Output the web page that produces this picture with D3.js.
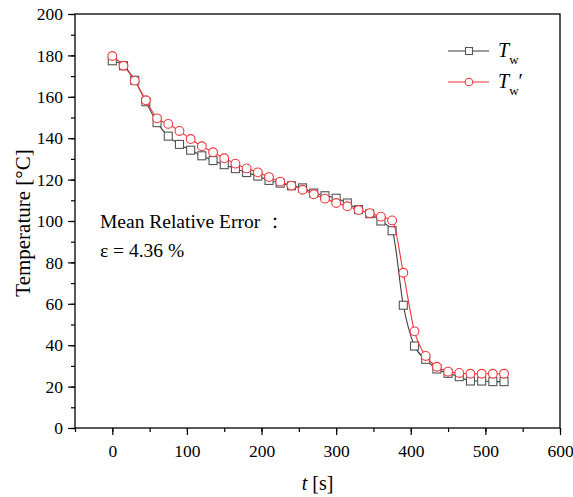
<!DOCTYPE html>
<html>
<head>
<meta charset="utf-8">
<script src="https://cdn.jsdelivr.net/npm/d3@7"></script>
<style>
  body { margin: 0; background: #fff; }
  text { font-family: "Liberation Serif", "Times New Roman", serif; }
</style>
</head>
<body>
<script>
// temperature curves
let w = 573;
let h = 497;

let time = [0, 15, 30, 45, 60, 75, 90, 105, 120, 135, 150, 165, 180, 195, 210, 225, 240, 255,
    270, 285, 300, 315, 330, 345, 360, 375, 390, 405, 420, 435, 450, 465, 480, 495, 510, 525];
let tw = [177.4, 175.0, 168.0, 157.6, 147.5, 141.0, 137.0, 134.2, 131.5, 129.2, 127.2, 125.3,
    123.4, 121.7, 119.6, 118.3, 117.0, 116.0, 113.5, 112.2, 111.0, 108.7, 105.5, 103.5,
    100.0, 95.3, 59.3, 39.6, 33.2, 28.5, 26.4, 24.8, 22.7, 22.7, 22.4, 22.4];
let twPrime = [179.7, 175.0, 167.8, 158.3, 149.6, 146.9, 143.5, 139.6, 136.1, 133.2, 130.3, 127.7,
    125.4, 123.5, 121.2, 119.0, 117.1, 115.1, 112.9, 110.8, 108.7, 107.1, 105.3, 103.8,
    102.1, 100.3, 75.0, 46.7, 34.8, 29.6, 27.2, 26.6, 26.2, 26.2, 26.2, 26.2];
let xTicks = [0, 100, 200, 300, 400, 500, 600];
let yTicks = [0, 20, 40, 60, 80, 100, 120, 140, 160, 180, 200];

let mL = 75, mR = 560, mT = 14, mB = 428;

let svg = d3.select('body').append('svg')
    .attr('width', w)
    .attr('height', h);

let x = d3.scaleLinear().domain([-50, 600]).range([mL, mR]);
let y = d3.scaleLinear().domain([0, 200]).range([mB, mT]);

// frame
svg.append('rect')
    .attr('x', mL).attr('y', mT)
    .attr('width', mR - mL).attr('height', mB - mT)
    .attr('fill', 'none').attr('stroke', '#000').attr('stroke-width', 1.3);

// minor ticks
svg.append('g')
    .attr('transform', `translate(0,${mB})`)
    .call(d3.axisBottom(x).tickValues(d3.range(-50, 601, 50)).tickSize(4).tickFormat(''))
    .call(g => g.select('.domain').remove());
svg.append('g')
    .attr('transform', `translate(${mL},0)`)
    .call(d3.axisLeft(y).tickValues(d3.range(0, 201, 10)).tickSize(4).tickFormat(''))
    .call(g => g.select('.domain').remove());

// major ticks
let xAxis = svg.append('g')
    .attr('transform', `translate(0,${mB})`)
    .call(d3.axisBottom(x).tickValues(xTicks).tickSize(7).tickPadding(5))
    .call(g => g.select('.domain').remove());
let yAxis = svg.append('g')
    .attr('transform', `translate(${mL},0)`)
    .call(d3.axisLeft(y).tickValues(yTicks).tickSize(7).tickPadding(5))
    .call(g => g.select('.domain').remove());

svg.selectAll('.tick line').attr('stroke-width', 1.2);
svg.selectAll('.tick text')
    .attr('font-family', 'Liberation Serif')
    .attr('font-size', 17.5)
    .attr('fill', '#000');
xAxis.selectAll('.tick text').attr('dy', '0.95em');

// axis titles
svg.append('text')
    .attr('x', (mL + mR) / 2).attr('y', 490)
    .attr('text-anchor', 'middle')
    .attr('font-size', 20)
    .html('<tspan font-style="italic">t</tspan> [s]');
svg.append('text')
    .attr('transform', `translate(30,223) rotate(-90)`)
    .attr('text-anchor', 'middle')
    .attr('font-size', 21)
    .text('Temperature [°C]');

let series = [
    { vals: tw, line: '#3c3c3c', mark: '#555', shape: 'square' },
    { vals: twPrime, line: '#ee3338', mark: '#f0393e', shape: 'circle' }
];

let line = d3.line()
    .x(d => x(d[0]))
    .y(d => y(d[1]))
    .curve(d3.curveMonotoneX);

series.forEach(s => {
    let pts = time.map((t, i) => [t, s.vals[i]]);
    svg.append('path')
        .datum(pts)
        .attr('d', line)
        .attr('fill', 'none')
        .attr('stroke', s.line)
        .attr('stroke-width', 1.1);
    if (s.shape === 'square') {
        svg.selectAll('rect.sq')
            .data(pts)
            .enter()
            .append('rect')
            .attr('class', 'sq')
            .attr('x', d => x(d[0]) - 4)
            .attr('y', d => y(d[1]) - 4)
            .attr('width', 8)
            .attr('height', 8)
            .attr('fill', '#fff')
            .attr('stroke', s.mark)
            .attr('stroke-width', 1.1);
    } else {
        svg.selectAll('circle.ci')
            .data(pts)
            .enter()
            .append('circle')
            .attr('class', 'ci')
            .attr('cx', d => x(d[0]))
            .attr('cy', d => y(d[1]))
            .attr('r', 4.4)
            .attr('fill', '#fff')
            .attr('stroke', s.mark)
            .attr('stroke-width', 1.1);
    }
});

// legend
let lg = svg.append('g');
lg.append('line').attr('x1', 448).attr('x2', 489).attr('y1', 51).attr('y2', 51)
    .attr('stroke', '#3c3c3c').attr('stroke-width', 1.1);
lg.append('rect').attr('x', 465.5).attr('y', 47.5).attr('width', 7).attr('height', 7)
    .attr('fill', '#fff').attr('stroke', '#555').attr('stroke-width', 1.1);
lg.append('line').attr('x1', 448).attr('x2', 489).attr('y1', 82).attr('y2', 82)
    .attr('stroke', '#ee3338').attr('stroke-width', 1.1);
lg.append('circle').attr('cx', 469).attr('cy', 82).attr('r', 3.8)
    .attr('fill', '#fff').attr('stroke', '#f0393e').attr('stroke-width', 1.1);

lg.append('text').attr('x', 498).attr('y', 57).attr('font-size', 20)
    .html('<tspan font-style="italic">T</tspan><tspan font-size="13" dy="7">w</tspan>');
lg.append('text').attr('x', 498).attr('y', 88).attr('font-size', 20)
    .html('<tspan font-style="italic">T</tspan><tspan font-size="13" dy="7">w</tspan><tspan dy="-7">′</tspan>');

// annotation
svg.append('text').attr('x', 100).attr('y', 228).attr('font-size', 19.5)
    .text('Mean Relative Error ：');
svg.append('text').attr('x', 100).attr('y', 257).attr('font-size', 19.5)
    .text('ε = 4.36 %');
</script>
</body>
</html>
